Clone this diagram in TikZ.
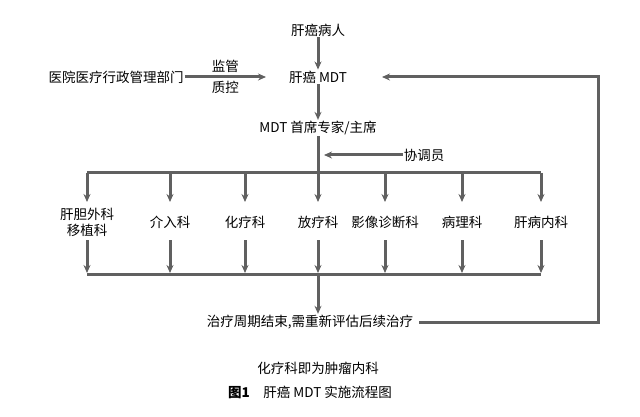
\documentclass[tikz,border=0pt]{standalone}
\usepackage{fontspec}
\newfontfamily\cjk{Noto Sans CJK SC}
\usetikzlibrary{arrows.meta}
\begin{document}
\begin{tikzpicture}[x=1pt, y=-1pt, every node/.style={font=\cjk\fontsize{13.5}{16}\selectfont, inner sep=1pt}]
    \tikzset{flow/.style={draw=gray!75!black, line width=3pt, -{Stealth[length=8pt, width=7pt]}},
             bus/.style={draw=gray!75!black, line width=3pt}}
    \useasboundingbox (0,0) rectangle (640,417);

    \node (patient) at (318,30) {肝癌病人};
    \node (mdt) at (318,77) {肝癌 MDT};
    \node (admin) at (116,77) {医院医疗行政管理部门};
    \node (chair) at (318,128) {MDT 首席专家/主席};
    \node (coord) at (424,155) {协调员};
    \node (done) at (310,322) {治疗周期结束,需重新评估后续治疗};

    \draw [flow] (admin.east) -- node [above=2pt] {监管} node [below=2pt] {质控} (mdt.west -| 266,0);
    \draw [flow] (patient) -- (mdt);
    \draw [flow] (mdt) -- (chair);
    \coordinate (top) at (318,173);
    \coordinate (low) at (318,274);
    \draw [bus] (chair) -- (top);
    \draw [flow] (coord.west) -- (324,155);
    \draw [bus] (87,173) -- (541,173);
    \draw [bus] (87,274) -- (541,274);

    \foreach \x/\name/\txt in {87/d1/{肝胆外科\\移植科}, 170/d2/介入科, 245/d3/化疗科, 318/d4/放疗科, 385/d5/影像诊断科, 462/d6/病理科, 541/d7/肝病内科} {
        \node [align=center] (\name) at (\x,222) {\txt};
        \draw [flow] (\x,173) -- (\x,202);
        \draw [flow] (\x,240) -- (\x,273);
    }

    \draw [flow] (low) -- (low |- done.north);
    \draw [flow] ([xshift=5pt]done.east) -- (598,322) -- (598,77) -- (mdt.east -| 382,0);

    \node (note) at (318,368) {化疗科即为肿瘤内科};
    \node (caption) at (310,392) {\textbf{图1}\quad 肝癌 MDT 实施流程图};
\end{tikzpicture}
\end{document}
